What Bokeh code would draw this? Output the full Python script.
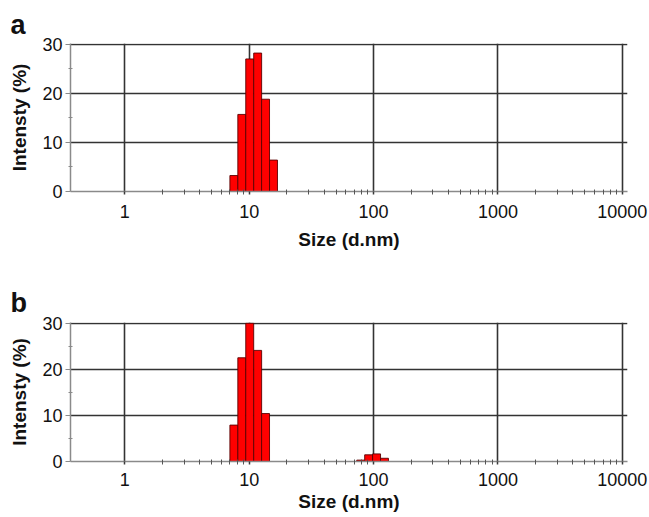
import numpy as np
from bokeh.plotting import figure
from bokeh.layouts import column
from bokeh.models import FixedTicker, Range1d, BasicTickFormatter
from bokeh.embed import file_html
from bokeh.resources import INLINE

# Size classes (d.nm, bar centres) and intensity (%)
size_a = [7.531, 8.721, 10.10, 11.70, 13.54, 15.69]
intensity_a = [3.25, 15.7, 27.0, 28.2, 18.8, 6.4]

size_b = [7.531, 8.721, 10.10, 11.70, 13.54, 78.82, 91.28, 105.7, 122.4]
intensity_b = [7.9, 22.5, 30.0, 24.1, 10.4, 0.3, 1.45, 1.65, 0.7]

x_ticks = [1, 10, 100, 1000, 10000]
y_ticks = [0, 10, 20, 30]
y_minor = [5, 15, 25]
BIN_LOG_WIDTH = 0.06374  # width of one size class, in decades

FONT = "Liberation Sans"


def panel(letter, sizes, vals, height, top, bottom, tick_standoff, label_standoff, title_standoff):
    p = figure(width=649, height=height, x_axis_type="log",
               x_range=Range1d(0.366, 11000), y_range=Range1d(0, 30.15),
               output_backend="svg", toolbar_location=None,
               min_border_left=70, min_border_right=22,
               min_border_top=top, min_border_bottom=bottom,
               title=letter)
    p.outline_line_color = None
    p.title.text_font = FONT
    p.title.text_font_size = "27px"
    p.title.text_font_style = "bold"
    p.title.text_color = "#111111"
    p.title.align = "left"
    p.title.offset = -60
    p.title.standoff = title_standoff

    sizes = np.array(sizes, dtype=float)
    half = 10 ** (BIN_LOG_WIDTH / 2)
    p.quad(left=sizes / half, right=sizes * half, bottom=0, top=vals,
           fill_color="#FF0000", line_color="#5a0000", line_width=0.9)

    p.xgrid.ticker = FixedTicker(ticks=x_ticks)
    p.xgrid.grid_line_color = "#333333"
    p.xgrid.grid_line_width = 1.6
    p.ygrid.ticker = FixedTicker(ticks=[10, 20, 30])
    p.ygrid.grid_line_color = "#333333"
    p.ygrid.grid_line_width = 1.6

    minor = [m * 10 ** d for d in range(0, 4) for m in range(2, 10)]
    xa = p.xaxis[0]
    xa.ticker = FixedTicker(ticks=x_ticks, minor_ticks=minor)
    xa.formatter = BasicTickFormatter(use_scientific=False)
    xa.axis_line_color = "#8a8a8a"
    xa.axis_line_width = 1.5
    xa.major_tick_line_color = "#3a3a3a"
    xa.major_tick_line_width = 1.5
    xa.major_tick_in = 0
    xa.major_tick_out = 3
    xa.minor_tick_line_color = "#555555"
    xa.minor_tick_in = 2
    xa.minor_tick_out = 3
    xa.major_label_text_font = FONT
    xa.major_label_text_font_size = "18px"
    xa.major_label_text_color = "#111111"
    xa.major_label_standoff = tick_standoff
    xa.axis_label = "Size (d.nm)"
    xa.axis_label_text_font = FONT
    xa.axis_label_text_font_size = "19px"
    xa.axis_label_text_font_style = "bold"
    xa.axis_label_text_color = "#111111"
    xa.axis_label_standoff = label_standoff

    ya = p.yaxis[0]
    ya.ticker = FixedTicker(ticks=y_ticks, minor_ticks=y_minor)
    ya.axis_line_color = "#8a8a8a"
    ya.axis_line_width = 1.5
    ya.major_tick_line_color = "#8a8a8a"
    ya.major_tick_in = 0
    ya.major_tick_out = 5
    ya.minor_tick_line_color = "#8a8a8a"
    ya.minor_tick_in = 2
    ya.minor_tick_out = 2
    ya.major_label_text_font = FONT
    ya.major_label_text_font_size = "18px"
    ya.major_label_text_color = "#111111"
    ya.major_label_standoff = 3
    ya.axis_label = "Intensty (%)"
    ya.axis_label_text_font = FONT
    ya.axis_label_text_font_size = "19px"
    ya.axis_label_text_font_style = "bold"
    ya.axis_label_text_color = "#111111"
    ya.axis_label_standoff = 9
    return p


p1 = panel("a", size_a, intensity_a, 265, 43, 74, 10, 8, 7)
p2 = panel("b", size_b, intensity_b, 252, 57, 56, 8, 2, 10)

layout = column(p1, p2, spacing=0)
open("out.html", "w").write(file_html(layout, INLINE))
